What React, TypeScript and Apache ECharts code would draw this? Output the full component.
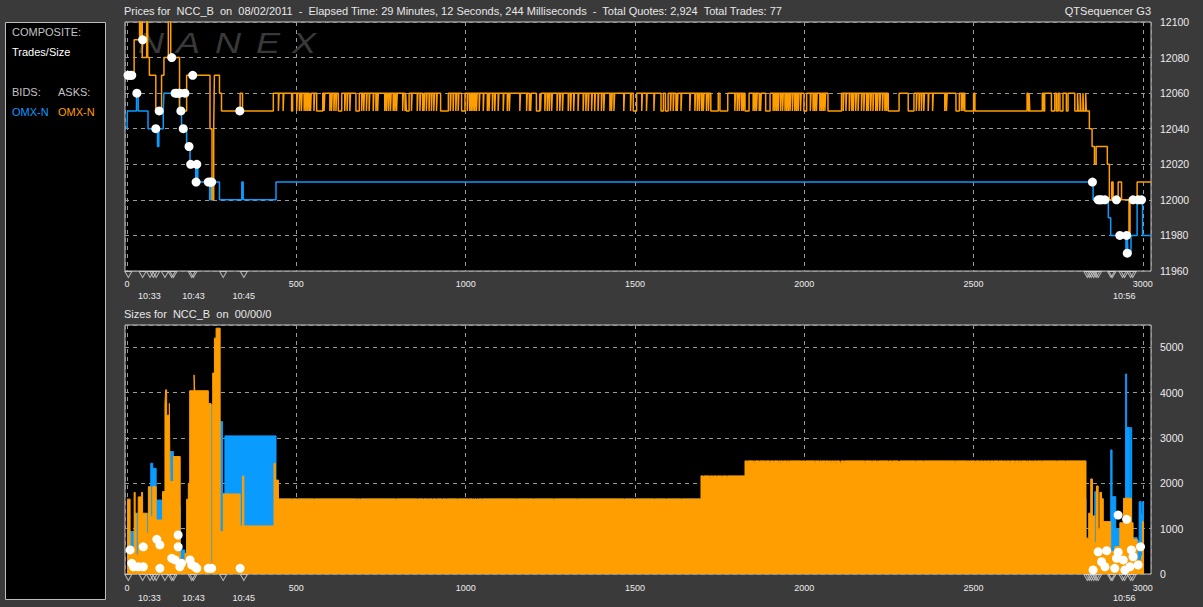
import React, { useEffect, useRef } from 'react';
import * as echarts from 'echarts';

const BG = '#3a3a3a';
const BLUE = '#0a9bff';
const ORANGE = '#ff9e00';
const FONT = 'Liberation Sans, Arial, sans-serif';

// ---------- Price chart (top): change points [sequence, price] ----------
const bidPriceSteps: [number, number][] = [
  [0, 12040], [1, 12050], [28, 12060], [33, 12050], [62, 12040], [90, 12030], [94, 12040],
  [107, 12050], [109, 12060], [155, 12050], [161, 12040], [176, 12030], [186, 12020],
  [203, 12010], [206, 12020], [209, 12010], [244, 12000], [247, 12010], [249, 12000],
  [252, 12010], [273, 12000], [339, 12010], [343, 12000], [440, 12010], [2853, 12000],
  [2898, 11990], [2905, 11980], [2950, 11970], [2954, 11980], [2956, 11970], [2965, 11980],
  [2983, 12000], [2999, 11980], [3024, 11980],
];

const askPriceHead: [number, number][] = [
  [0, 12070], [21, 12090], [37, 12110], [39, 12090], [42, 12110], [45, 12080], [58, 12110],
  [61, 12080], [66, 12070], [85, 12050], [102, 12070], [109, 12080], [122, 12110], [129, 12080],
  [155, 12050], [176, 12070], [245, 12040], [251, 12000], [256, 12040], [258, 12070],
  [273, 12060], [279, 12050], [334, 12060], [341, 12050], [432, 12060],
];

// ask flickers from 12060 down to 12050: [start sequence, length]
const askDips: [number, number][] = [
  [447, 2], [461, 2], [486, 3], [501, 2], [509, 2], [515, 2], [523, 2], [528, 2], [533, 2], [538, 2],
  [542, 2], [552, 2], [560, 18], [582, 2], [599, 2], [604, 2], [611, 2], [617, 2], [624, 10], [643, 2],
  [650, 2], [658, 2], [676, 10], [693, 2], [699, 2], [707, 2], [715, 2], [727, 2], [735, 2], [740, 2],
  [761, 2], [766, 2], [772, 2], [778, 2], [786, 2], [791, 2], [796, 2], [814, 2], [821, 2], [825, 8],
  [840, 2], [857, 2], [865, 2], [873, 2], [877, 2], [884, 2], [892, 2], [899, 2], [906, 2], [914, 2],
  [926, 23], [955, 2], [963, 2], [971, 2], [978, 2], [988, 10], [1005, 2], [1012, 2], [1017, 2], [1022, 2],
  [1027, 2], [1032, 2], [1040, 2], [1052, 2], [1064, 2], [1069, 2], [1079, 2], [1086, 2], [1096, 2], [1111, 2],
  [1123, 2], [1129, 2], [1160, 2], [1180, 2], [1188, 2], [1192, 2], [1209, 10], [1221, 2], [1234, 2], [1241, 2],
  [1247, 2], [1254, 2], [1270, 2], [1278, 2], [1286, 2], [1303, 2], [1310, 2], [1319, 2], [1332, 2], [1347, 2],
  [1355, 2], [1362, 2], [1372, 2], [1381, 2], [1391, 2], [1401, 2], [1408, 2], [1426, 2], [1431, 2], [1438, 2],
  [1467, 2], [1487, 2], [1495, 10], [1520, 2], [1534, 2], [1556, 2], [1577, 7], [1590, 8], [1605, 2], [1613, 2],
  [1621, 2], [1625, 2], [1636, 2], [1662, 2], [1677, 2], [1684, 2], [1690, 2], [1697, 2], [1702, 2], [1711, 2],
  [1717, 2], [1724, 22], [1751, 23], [1795, 2], [1802, 2], [1808, 2], [1815, 2], [1820, 2], [1825, 12], [1849, 2],
  [1854, 2], [1859, 2], [1867, 2], [1871, 2], [1886, 13], [1908, 2], [1913, 2], [1918, 2], [1923, 2], [1930, 2],
  [1936, 2], [1943, 2], [1948, 2], [1953, 2], [1958, 2], [1965, 2], [1972, 2], [1977, 2], [1982, 2], [1989, 2],
  [1999, 8], [2018, 2], [2026, 2], [2031, 2], [2036, 2], [2046, 2], [2051, 2], [2056, 2], [2061, 2], [2070, 40],
  [2115, 2], [2123, 2], [2133, 2], [2140, 2], [2145, 2], [2152, 2], [2159, 2], [2169, 2], [2176, 2], [2184, 2],
  [2189, 2], [2196, 2], [2203, 2], [2211, 2], [2216, 2], [2223, 2], [2231, 2], [2238, 2], [2243, 2], [2248, 32],
  [2307, 17], [2331, 2], [2339, 2], [2346, 2], [2353, 2], [2366, 2], [2379, 2], [2415, 2], [2420, 2], [2448, 10],
  [2464, 2], [2469, 2], [2474, 26], [2504, 154], [2661, 3], [2666, 37], [2707, 3], [2730, 10], [2745, 5],
  [2755, 9], [2774, 5], [2799, 8], [2809, 6], [2817, 6], [2825, 6],
];
const askDipLow = 12050;
const askDipHigh = 12060;

const askPriceTail: [number, number][] = [
  [2833, 12050], [2842, 12040], [2850, 12030], [2857, 12020], [2862, 12030], [2895, 12020],
  [2901, 12000], [2908, 12010], [2912, 12000], [2927, 12010], [2937, 12000], [2959, 11980],
  [2962, 12000], [2983, 12010], [3024, 12010],
];

const tradePrices: [number, number][] = [
  [3, 12070], [9, 12070], [14, 12070], [29, 12060], [46, 12090], [85, 12040], [95, 12050],
  [132, 12080], [142, 12060], [147, 12060], [152, 12060], [156, 12060], [159, 12050], [166, 12040],
  [171, 12060], [183, 12030], [188, 12020], [194, 12070], [204, 12010], [206, 12020], [240, 12010],
  [246, 12010], [250, 12010], [333, 12050],
  [2851, 12010], [2868, 12000], [2873, 12000], [2878, 12000], [2888, 12000], [2922, 12000],
  [2932, 11980], [2952, 11980], [2954, 11970], [2971, 12000], [2986, 12000], [2996, 12000],
];

// ---------- Size chart (bottom) ----------
const bidSizeSteps: [number, number][] = [
  [0, 935], [24, 1340], [33, 1200], [58, 1340], [70, 2440], [76, 2330], [86, 1630], [105, 1815],
  [112, 1000], [127, 2700], [137, 1500], [157, 530], [171, 300], [176, 1000], [240, 2000],
  [248, 3730], [253, 500], [274, 3360], [282, 1780], [289, 3045], [440, 1780], [447, 1650],
  [2832, 500], [2858, 1815], [2863, 900], [2905, 2735], [2909, 1705], [2920, 1000], [2932, 900],
  [2949, 4410], [2952, 3230], [2961, 1500], [2964, 3230], [2967, 800], [2983, 735], [2989, 1595],
  [2995, 1340], [2999, 1595], [3002, 0],
];

const askSizeHead: [number, number][] = [
  [0, 1650], [9, 490], [21, 1800], [24, 1340], [27, 420], [33, 1700], [43, 1800], [46, 1340],
  [58, 900], [63, 1925], [70, 1260], [76, 1925], [86, 1190], [105, 1815], [112, 3760], [114, 4060],
  [117, 3500], [125, 3760], [127, 2040], [137, 2590], [157, 310], [171, 455], [176, 1650],
  [181, 2000], [185, 4040], [198, 4390], [200, 4040], [240, 3760], [248, 235], [253, 4430],
  [258, 5200], [263, 5420], [275, 935], [284, 1765], [334, 1060], [341, 2160], [345, 1060],
  [434, 2440], [438, 2070],
];

// plateaus of the ask size with their brief notches
const sizeLevelSeqs = [447, 1695, 1825];
const sizeLevels = [1655, 2163, 2494];
const sizeNotchLevels = [1560, 2040, 2390];
const sizeNotchesA = [
  488, 503, 553, 676, 683, 689, 795, 857, 875, 890, 901, 913, 931, 943, 975, 1008, 1019, 1025,
  1031, 1037, 1049, 1150, 1200, 1260, 1330, 1468, 1498, 1557, 1592, 1637,
];
const sizeNotchesB = [1702, 1721, 1731, 1741, 1756, 1771];
const sizeNotchesC = [
  1830, 1849, 1854, 1867, 1884, 1898, 1908, 1923, 1928, 1936, 1948, 1956, 1992, 2002, 2031, 2044,
  2051, 2061, 2071, 2078, 2085, 2093, 2103, 2107, 2117, 2179, 2199, 2213, 2218, 2248, 2258, 2277,
  2280, 2327, 2351, 2445, 2479, 2487, 2504, 2518, 2528, 2538, 2548, 2558, 2573, 2587, 2597, 2607,
  2622, 2632, 2639, 2655, 2661, 2671, 2676, 2686, 2701, 2745, 2770,
];

const askSizeTail: [number, number][] = [
  [2832, 790], [2840, 1340], [2846, 2095], [2851, 1280], [2858, 700], [2863, 1940], [2868, 1000],
  [2873, 1800], [2878, 1660], [2883, 1155], [2905, 500], [2917, 600], [2932, 1130], [2943, 1670],
  [2966, 1130], [2971, 765], [2983, 300], [2996, 400], [2999, 1155], [3002, 0],
];

const tradeSizes: [number, number][] = [
  [9, 530], [14, 235], [19, 160], [33, 160], [48, 600], [48, 160], [88, 765], [97, 640], [97, 125],
  [132, 345], [142, 310], [151, 860], [151, 600], [161, 235], [156, 160], [186, 310], [191, 200],
  [201, 160], [206, 125], [240, 125], [250, 125], [334, 125],
  [2853, 90], [2868, 490], [2878, 270], [2888, 160], [2893, 515], [2917, 125], [2922, 345],
  [2927, 1300], [2927, 480], [2942, 310], [2947, 90], [2952, 1205], [2962, 160], [2966, 530],
  [2971, 380], [2986, 200], [2993, 600],
];

// trade markers under the axes
const tradeMarks = [
  4, 46, 68, 78, 86, 112, 132, 137, 191, 196, 284, 345,
  2836, 2842, 2848, 2855, 2862, 2868, 2906, 2910, 2940, 2946, 2964, 2970,
];

const timeSeqs = [66, 196, 345, 2945];
const timeLabels = ['10:33', '10:43', '10:45', '10:56'];

const X_MIN = -6;
const X_MAX = 3024;

function buildAskPrice(): [number, number][] {
  const out: [number, number][] = [...askPriceHead];
  for (const [s, w] of askDips) {
    out.push([s, askDipLow], [s + w, askDipHigh]);
  }
  return out.concat(askPriceTail);
}

function buildAskSize(): [number, number][] {
  const out: [number, number][] = [...askSizeHead];
  const notches = [sizeNotchesA, sizeNotchesB, sizeNotchesC];
  for (let i = 0; i < sizeLevels.length; i++) {
    out.push([sizeLevelSeqs[i], sizeLevels[i]]);
    for (const s of notches[i]) {
      out.push([s, sizeNotchLevels[i]], [s + 2, sizeLevels[i]]);
    }
  }
  return out.concat(askSizeTail);
}

const dashed = { show: true, lineStyle: { color: '#9a9a9a', type: [4, 4] as any, width: 1 } };

function mainX(gridIndex: number, margin: number) {
  return {
    type: 'value', gridIndex, min: X_MIN, max: X_MAX, splitNumber: 6,
    axisLine: { show: false }, axisTick: { show: false },
    splitLine: dashed,
    axisLabel: {
      color: '#ececec', fontSize: 9, fontFamily: FONT, margin,
      showMinLabel: false, showMaxLabel: false,
      formatter: (v: number) => (v >= 0 && v <= 3000 && v % 500 === 0 ? String(v) : ''),
    },
  };
}

function markX(gridIndex: number, margin: number) {
  return {
    type: 'value', gridIndex, min: X_MIN, max: X_MAX,
    axisLine: { show: false }, axisTick: { show: false }, splitLine: { show: false },
    axisLabel: {
      show: true, color: '#ececec', fontSize: 9, fontFamily: FONT, margin,
      customValues: timeSeqs,
      formatter: (v: number) => {
        const i = timeSeqs.indexOf(v);
        return i >= 0 ? timeLabels[i] : '';
      },
    },
  };
}

export default function App() {
  const ref = useRef<HTMLDivElement>(null);
  useEffect(() => {
    if (!ref.current) return;
    const chart = echarts.init(ref.current, undefined, { renderer: 'svg' });
    const letters = ['N', 'A', 'N', 'E', 'X'];
    const letterX = [138, 176, 215, 256, 292];
    const markSeries = (xi: number, yi: number) => ({
      type: 'scatter', xAxisIndex: xi, yAxisIndex: yi, silent: true,
      symbol: 'triangle', symbolRotate: 180, symbolSize: [7, 6],
      itemStyle: { color: 'rgba(0,0,0,0)', borderColor: '#d0d0d0', borderWidth: 1 },
      data: tradeMarks.map((s) => [s, 0.5]),
    });
    const option: any = {
      animation: false,
      backgroundColor: BG,
      textStyle: { fontFamily: FONT },
      graphic: [
        {
          type: 'rect', shape: { x: 5.5, y: 22.5, width: 100, height: 577 },
          style: { fill: '#000', stroke: '#bdbdbd', lineWidth: 1 }, z: 1,
        },
        { type: 'text', x: 12, y: 32, z: 2, style: { text: 'COMPOSITE:', fill: '#c4c4c4', font: `11px ${FONT}`, verticalAlign: 'middle' } },
        { type: 'text', x: 12, y: 52, z: 2, style: { text: 'Trades/Size', fill: '#ffffff', font: `11px ${FONT}`, verticalAlign: 'middle' } },
        { type: 'text', x: 12, y: 92, z: 2, style: { text: 'BIDS:', fill: '#c4c4c4', font: `11px ${FONT}`, verticalAlign: 'middle' } },
        { type: 'text', x: 58, y: 92, z: 2, style: { text: 'ASKS:', fill: '#c4c4c4', font: `11px ${FONT}`, verticalAlign: 'middle' } },
        { type: 'text', x: 12, y: 112, z: 2, style: { text: 'OMX-N', fill: BLUE, font: `11px ${FONT}`, verticalAlign: 'middle' } },
        { type: 'text', x: 58, y: 112, z: 2, style: { text: 'OMX-N', fill: ORANGE, font: `11px ${FONT}`, verticalAlign: 'middle' } },
        {
          type: 'text', x: 124, y: 11, z: 2,
          style: {
            text: 'Prices for  NCC_B  on  08/02/2011  -  Elapsed Time: 29 Minutes, 12 Seconds, 244 Milliseconds  -  Total Quotes: 2,924  Total Trades: 77',
            fill: '#e8e8e8', font: `11px ${FONT}`, verticalAlign: 'middle',
          },
        },
        { type: 'text', x: 1151, y: 11, z: 2, style: { text: 'QTSequencer G3', fill: '#e8e8e8', font: `11px ${FONT}`, verticalAlign: 'middle', align: 'right' } },
        { type: 'text', x: 124, y: 314, z: 2, style: { text: 'Sizes for  NCC_B  on  00/00/0', fill: '#e8e8e8', font: `11px ${FONT}`, verticalAlign: 'middle' } },
        ...letters.map((l, i) => ({
          type: 'text', x: letterX[i], y: 43, z: 1, scaleX: 1.2,
          style: { text: l, fill: '#393939', font: `italic 30px ${FONT}`, verticalAlign: 'middle' },
        })),
      ],
      grid: [
        { left: 125, top: 22, width: 1026, height: 249, show: true, backgroundColor: '#000', borderColor: '#c8c8c8', borderWidth: 1, z: 0 },
        { left: 125, top: 325, width: 1026, height: 249, show: true, backgroundColor: '#000', borderColor: '#c8c8c8', borderWidth: 1, z: 0 },
        { left: 125, top: 271, width: 1026, height: 7 },
        { left: 125, top: 574, width: 1026, height: 7 },
      ],
      xAxis: [mainX(0, 8), mainX(1, 9), markX(2, 13), markX(3, 12)],
      yAxis: [
        {
          type: 'value', gridIndex: 0, position: 'right', min: 11960, max: 12100, interval: 20,
          axisLine: { show: false }, axisTick: { show: false }, splitLine: dashed,
          axisLabel: { color: '#ececec', fontSize: 10.5, fontFamily: FONT, margin: 9, formatter: (v: number) => String(v) },
        },
        {
          type: 'value', gridIndex: 1, position: 'right', min: 0, max: 5490, interval: 1000,
          axisLine: { show: false }, axisTick: { show: false }, splitLine: dashed,
          axisLabel: {
            color: '#ececec', fontSize: 10.5, fontFamily: FONT, margin: 9, showMaxLabel: false,
            formatter: (v: number) => (v % 1000 === 0 ? String(v) : ''),
          },
        },
        { type: 'value', gridIndex: 2, min: 0, max: 1, show: false },
        { type: 'value', gridIndex: 3, min: 0, max: 1, show: false },
      ],
      series: [
        {
          type: 'line', xAxisIndex: 0, yAxisIndex: 0, step: 'end', symbol: 'none', silent: true, z: 2,
          lineStyle: { color: BLUE, width: 1.5 }, itemStyle: { color: BLUE }, data: bidPriceSteps,
        },
        {
          type: 'line', xAxisIndex: 0, yAxisIndex: 0, step: 'end', symbol: 'none', silent: true, z: 3,
          lineStyle: { color: ORANGE, width: 1.5 }, itemStyle: { color: ORANGE }, data: buildAskPrice(),
        },
        {
          type: 'scatter', xAxisIndex: 0, yAxisIndex: 0, symbolSize: 9, silent: true,
          itemStyle: { color: '#ffffff', opacity: 1 }, data: tradePrices, z: 5,
        },
        {
          type: 'line', xAxisIndex: 1, yAxisIndex: 1, step: 'end', symbol: 'none', silent: true, z: 2,
          lineStyle: { color: BLUE, width: 1 }, itemStyle: { color: BLUE },
          areaStyle: { color: BLUE, opacity: 1 }, data: bidSizeSteps,
        },
        {
          type: 'line', xAxisIndex: 1, yAxisIndex: 1, step: 'end', symbol: 'none', silent: true, z: 3,
          lineStyle: { color: ORANGE, width: 1 }, itemStyle: { color: ORANGE },
          areaStyle: { color: ORANGE, opacity: 1 }, data: buildAskSize(),
        },
        {
          type: 'scatter', xAxisIndex: 1, yAxisIndex: 1, symbolSize: 9, silent: true,
          itemStyle: { color: '#ffffff', opacity: 1 }, data: tradeSizes, z: 5,
        },
        markSeries(2, 2),
        markSeries(3, 3),
      ],
    };
    chart.setOption(option);
    return () => chart.dispose();
  }, []);
  return (
    <div
      ref={ref}
      style={{ position: 'absolute', left: 0, top: 0, width: 1203, height: 607, background: BG }}
    />
  );
}
